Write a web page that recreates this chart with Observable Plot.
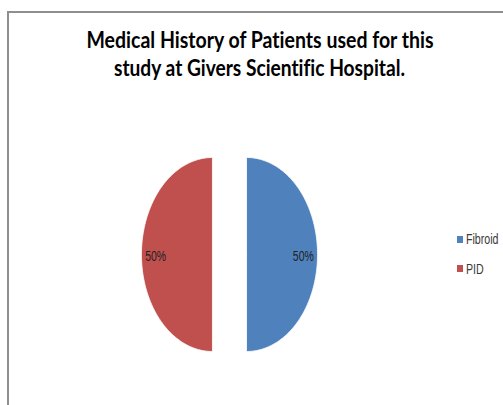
<!DOCTYPE html>
<html>
<head>
<meta charset="utf-8">
<script src="https://cdn.jsdelivr.net/npm/d3@7"></script>
<script src="https://cdn.jsdelivr.net/npm/@observablehq/plot@0.6"></script>
<style>
  html, body { margin: 0; padding: 0; background: #fff; }
  #chart { position: relative; width: 503px; height: 405px; overflow: hidden; background: #fff; }
  #chart svg { position: absolute; left: 0; top: 0; font-variant-ligatures: none; }
  .frame { position: absolute; left: 7px; top: 11px; width: 520px; height: 420px;
           border-left: 2px solid #8e8e8e; border-top: 2px solid #8e8e8e; pointer-events: none; }
  .legend-item { position: absolute; left: 457px; height: 16px; display: flex; align-items: center; }
  .legend-swatch { width: 6px; height: 7px; margin-right: 3px; flex: none; }
  .legend-text { font-family: "Liberation Sans", Arial, sans-serif; font-size: 14px; color: #3a3a3a;
                 transform-origin: 0 50%; white-space: nowrap; line-height: 16px; }
</style>
</head>
<body>
<div id="chart"></div>
<script>
// ---- data ----
const categories = ["Fibroid", "PID"];
const values = [50, 50];
const labels = ["50%", "50%"];
const colors = ["#4F81BD", "#C0504D"];
const titleLines = ["Medical History of Patients used for this", "study at Givers Scientific Hospital."];

// ---- geometry (unit radius, explode as fraction of radius) ----
const explode = 0.24;
const rows = categories.map((c, i) => ({category: c, value: values[i], label: labels[i]}));
const arcs = d3.pie().sort(null).value(d => d.value)(rows);
const outline = [];
const labelPts = [];
for (const s of arcs) {
  const mid = (s.startAngle + s.endAngle) / 2;
  const ox = explode * Math.sin(mid), oy = explode * Math.cos(mid);
  outline.push({category: s.data.category, x: ox, y: oy});
  const n = 180;
  for (let k = 0; k <= n; ++k) {
    const a = s.startAngle + (s.endAngle - s.startAngle) * k / n;
    outline.push({category: s.data.category, x: ox + Math.sin(a), y: oy + Math.cos(a)});
  }
  outline.push({category: s.data.category, x: ox, y: oy});
  labelPts.push({category: s.data.category, label: s.data.label,
                 x: ox + 0.8 * Math.sin(mid), y: oy + 0.8 * Math.cos(mid)});
}

const plot = Plot.plot({
  width: 503,
  height: 405,
  margin: 0,
  x: {domain: [-229 / 71, 274 / 71], axis: null},
  y: {domain: [-151 / 97, 254 / 97], axis: null},
  color: {domain: categories, range: colors},
  marks: [
    Plot.line(outline, {x: "x", y: "y", z: "category", fill: "category", stroke: "white", strokeWidth: 1, strokeOpacity: 0.8}),
    Plot.text(labelPts, {x: "x", y: "y", text: "label", fontSize: 14, fill: "#222",
                         fontFamily: "Liberation Sans, Arial, sans-serif", dy: 2}),
    Plot.text([titleLines[0]], {text: d => d, frameAnchor: "top-left", dx: 259.5, dy: 47, lineAnchor: "bottom",
                                textAnchor: "middle", fontSize: 22, fontWeight: "bold", fill: "#000",
                                fontFamily: "Lato, 'Open Sans', sans-serif"}),
    Plot.text([titleLines[1]], {text: d => d, frameAnchor: "top-left", dx: 259, dy: 75, lineAnchor: "bottom",
                                textAnchor: "middle", fontSize: 22, fontWeight: "bold", fill: "#000",
                                fontFamily: "Lato, 'Open Sans', sans-serif"})
  ]
});

const chart = document.getElementById("chart");
chart.appendChild(plot);

// compress text horizontally like the reference
const widths = {};
widths[titleLines[0]] = 347;
widths[titleLines[1]] = 291;
widths["50%"] = 21;
plot.querySelectorAll("text").forEach(t => {
  const w = widths[t.textContent.trim()];
  if (w) { t.setAttribute("textLength", w); t.setAttribute("lengthAdjust", "spacingAndGlyphs"); }
});

// legend
const color = plot.scale("color");
const legendScale = d3.scaleOrdinal(color.domain, color.range);
categories.forEach((c, i) => {
  const item = document.createElement("div");
  item.className = "legend-item";
  item.style.top = (231 + i * 29.5) + "px";
  const sw = document.createElement("div");
  sw.className = "legend-swatch";
  sw.style.background = legendScale(c);
  const tx = document.createElement("span");
  tx.className = "legend-text";
  tx.textContent = c;
  item.appendChild(sw);
  item.appendChild(tx);
  chart.appendChild(item);
  tx.style.transform = "scaleX(0.76)";
});

const frame = document.createElement("div");
frame.className = "frame";
chart.appendChild(frame);
</script>
</body>
</html>
